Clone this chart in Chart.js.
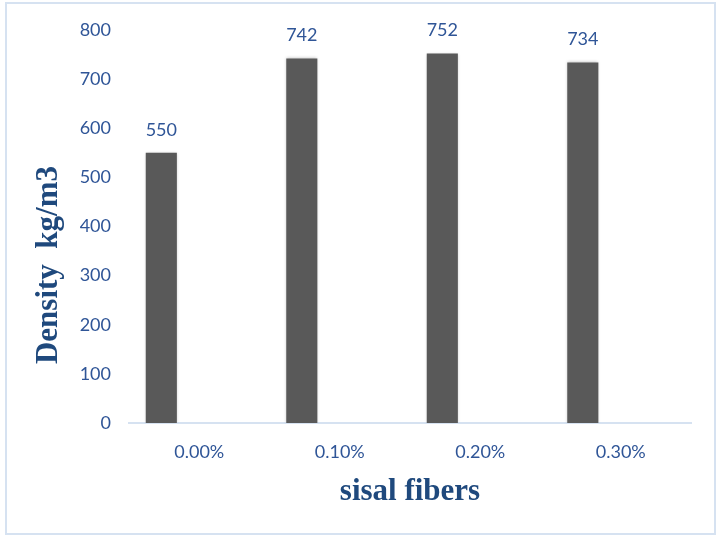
<!DOCTYPE html>
<html>
<head>
<meta charset="utf-8">
<script src="https://cdn.jsdelivr.net/npm/chart.js@4.4.1/dist/chart.umd.min.js"></script>
<style>
  html, body { margin: 0; padding: 0; background: #fff; }
  #wrap { position: relative; width: 721px; height: 540px; }
  #frame {
    position: absolute; left: 5px; top: 2px; width: 707px; height: 529px;
    border: 2px solid #d6e2f1; pointer-events: none;
  }
  canvas { position: absolute; left: 0; top: 0; }
</style>
</head>
<body>
<div id="wrap">
  <canvas id="densityChart" width="721" height="540"></canvas>
  <div id="frame"></div>
</div>
<script>
// datos
const categories = ['0.00%', '0.10%', '0.20%', '0.30%'];
const densityValues = [550, 742, 752, 734];
const emptySlot = [null, null, null, null];
const yTicks = [0, 100, 200, 300, 400, 500, 600, 700, 800];

const tickColor = '#2f5597';
const titleColor = '#1f497d';

// etiquetas de valor encima de cada barra
const valueLabels = {
  id: 'valueLabels',
  afterDatasetsDraw(chart) {
    const ctx = chart.ctx;
    const meta = chart.getDatasetMeta(0);
    ctx.save();
    ctx.font = '18px Lato';
    ctx.fillStyle = tickColor;
    ctx.textAlign = 'center';
    ctx.textBaseline = 'middle';
    meta.data.forEach((bar, i) => {
      ctx.fillText(densityValues[i], bar.x, bar.y - 23);
    });
    ctx.restore();
  }
};

// sombra suave de las barras
const barShadow = {
  id: 'barShadow',
  beforeDatasetsDraw(chart) {
    chart.ctx.save();
    chart.ctx.shadowColor = 'rgba(0,0,0,0.25)';
    chart.ctx.shadowBlur = 3;
  },
  afterDatasetsDraw(chart) {
    chart.ctx.restore();
  }
};

// titulo del eje Y (desplazado como en el original)
const yTitle = {
  id: 'yTitle',
  afterDraw(chart) {
    const ctx = chart.ctx;
    ctx.save();
    ctx.translate(57, 265);
    ctx.rotate(-Math.PI / 2);
    ctx.font = 'bold 31px "Liberation Serif"';
    ctx.fillStyle = titleColor;
    ctx.textAlign = 'center';
    ctx.textBaseline = 'alphabetic';
    ctx.fillText('Density  kg/m3', 0, 0);
    ctx.restore();
  }
};

new Chart(document.getElementById('densityChart'), {
  type: 'bar',
  data: {
    labels: categories,
    datasets: [
      { data: densityValues, backgroundColor: '#595959', categoryPercentage: 0.81, barPercentage: 0.82 },
      { data: emptySlot, categoryPercentage: 0.81, barPercentage: 0.82 },
      { data: emptySlot, categoryPercentage: 0.81, barPercentage: 0.82 }
    ]
  },
  options: {
    responsive: false,
    animation: false,
    layout: { padding: { left: 0, right: 30, top: 30, bottom: 0 } },
    plugins: {
      legend: { display: false },
      tooltip: { enabled: false }
    },
    scales: {
      x: {
        grid: { display: false, drawTicks: false },
        border: { display: true, color: '#d6e2f1', width: 2 },
        ticks: { color: tickColor, font: { family: 'Lato', size: 18 }, padding: 18 },
        title: {
          display: true,
          text: 'sisal fibers',
          color: titleColor,
          font: { family: 'Liberation Serif', size: 31, weight: 'bold' },
          padding: { top: 0, bottom: 29 }
        },
        afterFit(scale) { scale.height = 117; }
      },
      y: {
        min: 0,
        max: 800,
        afterBuildTicks(scale) { scale.ticks = yTicks.map(v => ({ value: v })); },
        grid: { display: false, drawTicks: false },
        border: { display: false },
        ticks: { color: tickColor, font: { family: 'Lato', size: 18 }, padding: 18 },
        afterFit(scale) { scale.width = 129; }
      }
    }
  },
  plugins: [barShadow, valueLabels, yTitle]
});
</script>
</body>
</html>
